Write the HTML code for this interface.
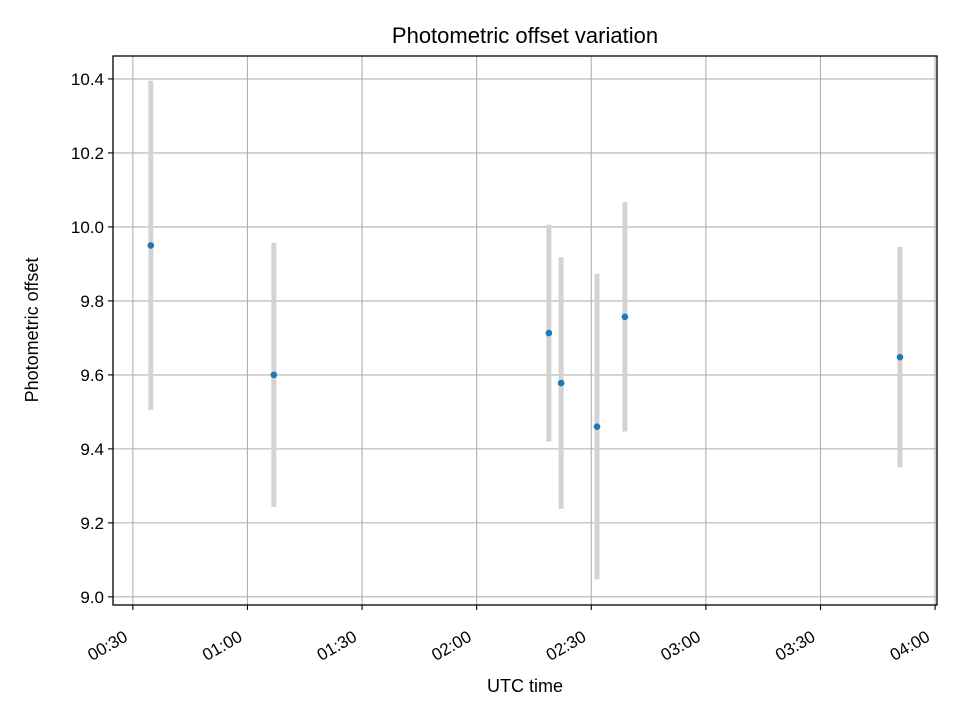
<!DOCTYPE html>
<html><head><meta charset="utf-8"><style>
body{margin:0;background:#fff;}
svg text{font-family:"Liberation Sans","DejaVu Sans",sans-serif;}
</style></head><body>
<svg id="chart" width="960" height="720" xmlns="http://www.w3.org/2000/svg">
<rect width="960" height="720" fill="#fff"/>
<g id="grid"></g>
<g id="marks"></g>
<rect x="113" y="56" width="824" height="549" fill="none" stroke="#000" stroke-width="1.3"/>
<g id="axes"></g>
<text x="525" y="43" font-size="22" text-anchor="middle">Photometric offset variation</text>
<text x="525" y="692" font-size="18" text-anchor="middle">UTC time</text>
<text x="38" y="330" font-size="18" text-anchor="middle" transform="rotate(-90 38 330)">Photometric offset</text>
</svg>
<script>
// data (times in minutes after midnight UTC)
const times = [34.7, 66.9, 138.9, 142.1, 151.5, 158.8, 230.8];
const offsets = [9.95, 9.60, 9.713, 9.578, 9.46, 9.757, 9.648];
const errors = [0.445, 0.357, 0.293, 0.34, 0.413, 0.31, 0.298];
const xTickMinutes = [30, 60, 90, 120, 150, 180, 210, 240];
const xTickLabels = ["00:30","01:00","01:30","02:00","02:30","03:00","03:30","04:00"];
const yTicks = [9.0, 9.2, 9.4, 9.6, 9.8, 10.0, 10.2, 10.4];

const L=113,R=937,T=56,B=605;
const xMin=24.8,xMax=240.5,yMin=8.978,yMax=10.462;
const xs=v=>L+(v-xMin)/(xMax-xMin)*(R-L);
const ys=v=>B-(v-yMin)/(yMax-yMin)*(B-T);
const NS="http://www.w3.org/2000/svg";
function mk(tag,attrs,parent){const e=document.createElementNS(NS,tag);for(const k in attrs)e.setAttribute(k,attrs[k]);parent.appendChild(e);return e;}
const grid=document.getElementById('grid'),marks=document.getElementById('marks'),axes=document.getElementById('axes');

xTickMinutes.forEach((m,i)=>{
  const x=xs(m);
  const g=mk('line',{x1:x,x2:x,y1:T,y2:B,stroke:'#b0b0b0','stroke-width':1.1},grid);
  
  
  const t=mk('line',{x1:x,x2:x,y1:B,y2:B+5,stroke:'#000','stroke-width':1.1},axes);
  
  
  const ax=x-4, ay=B+35;
  const lb=mk('text',{x:ax,y:ay,'font-size':17,'text-anchor':'end',transform:`rotate(-30 ${ax} ${ay})`},axes);
  lb.textContent=xTickLabels[i];
  
  
});
yTicks.forEach(v=>{
  const y=ys(v);
  const g=mk('line',{x1:L,x2:R,y1:y,y2:y,stroke:'#b0b0b0','stroke-width':1.1},grid);
  
  
  const t=mk('line',{x1:L-5,x2:L,y1:y,y2:y,stroke:'#000','stroke-width':1.1},axes);
  
  
  const lb=mk('text',{x:L-9,y:y+6,'font-size':17,'text-anchor':'end'},axes);
  lb.textContent=v.toFixed(1);
  
  
});
times.forEach((t,i)=>{
  const x=xs(t);
  const eb=mk('line',{x1:x,x2:x,y1:ys(offsets[i]+errors[i]),y2:ys(offsets[i]-errors[i]),stroke:'#d3d3d3','stroke-width':5},marks);
  
  
});
times.forEach((t,i)=>{
  const p=mk('circle',{cx:xs(t),cy:ys(offsets[i]),r:3.3,fill:'#1f77b4'},marks);
  
  
});
</script>
</body></html>
